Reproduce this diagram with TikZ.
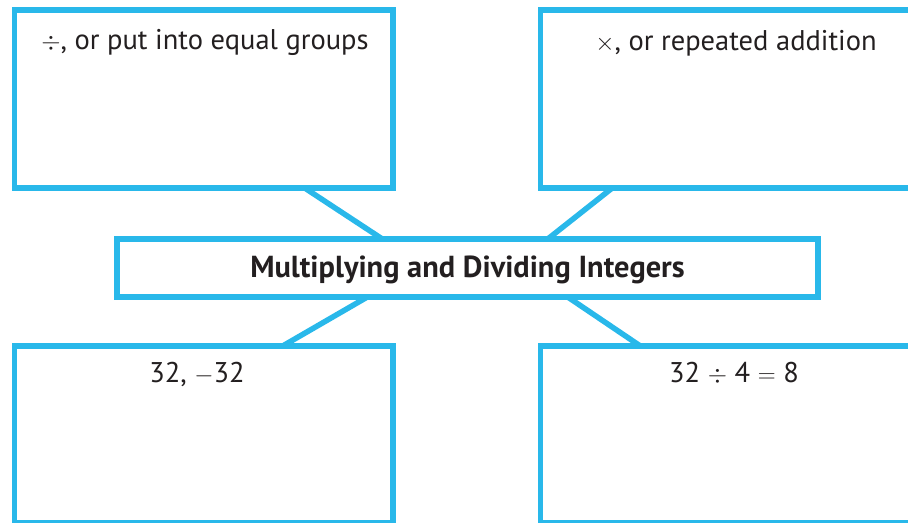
\documentclass[tikz,border=0pt]{standalone}
\usepackage{fontspec}
\setmainfont{PT Sans}
\definecolor{boxblue}{RGB}{41,184,234}
\definecolor{inktext}{RGB}{35,31,32}
\tikzset{
  frame/.style={draw=boxblue, line width=5.5bp, fill=white, rectangle, inner sep=0pt},
  conn/.style={draw=boxblue, line width=5.5bp},
  lbl/.style={anchor=base, inner sep=0pt, text=inktext, font=\fontsize{28.6}{32}\selectfont},
  ttl/.style={anchor=base, inner sep=0pt, text=inktext, font=\fontsize{30.5}{34}\selectfont\bfseries}
}
\begin{document}
\begin{tikzpicture}[x=1bp,y=-1bp]
\useasboundingbox (0,0) rectangle (908,523);
\clip (0,0) rectangle (908,523);
\coordinate (tlc) at (203.75,99);
\coordinate (trc) at (730.25,99);
\coordinate (midc) at (467.5,268);
\coordinate (blc) at (203.75,434.5);
\coordinate (brc) at (730.25,434.5);
\node[minimum width=378.5bp, minimum height=178bp, inner sep=0pt] (tlg) at (tlc) {};
\node[minimum width=379.5bp, minimum height=178bp, inner sep=0pt] (trg) at (trc) {};
\node[minimum width=701bp, minimum height=58bp, inner sep=0pt] (midg) at (midc) {};
\node[minimum width=378.5bp, minimum height=177bp, inner sep=0pt] (blg) at (blc) {};
\node[minimum width=379.5bp, minimum height=177bp, inner sep=0pt] (brg) at (brc) {};
\draw[conn] ([xshift=101.25bp]tlg.south) -- ([xshift=-85.5bp]midg.north);
\draw[conn] ([xshift=-118.25bp]trg.south) -- ([xshift=80.5bp]midg.north);
\draw[conn] ([xshift=-100.5bp]midg.south) -- ([xshift=79.25bp]blg.north);
\draw[conn] ([xshift=100.5bp]midg.south) -- ([xshift=-90.25bp]brg.north);
\node[frame, minimum width=378.5bp, minimum height=178bp] (tl) at (tlc) {};
\node[frame, minimum width=379.5bp, minimum height=178bp] (tr) at (trc) {};
\node[frame, minimum width=701bp, minimum height=58bp] (mid) at (midc) {};
\node[frame, minimum width=378.5bp, minimum height=177bp] (bl) at (blc) {};
\node[frame, minimum width=379.5bp, minimum height=177bp] (br) at (brc) {};
\node[lbl] (tltxt) at (205,50) {$\div$, or put into equal groups};
\node[lbl] (trtxt) at (736,51) {$\times$, or repeated addition};
\node[ttl] (title) at (467.5,278) {Multiplying and Dividing Integers};
\node[lbl] (bltxt) at (197,382) {32, $-$32};
\node[lbl] (brtxt) at (734,382) {32 $\div$ 4 $=$ 8};
\end{tikzpicture}
\end{document}
